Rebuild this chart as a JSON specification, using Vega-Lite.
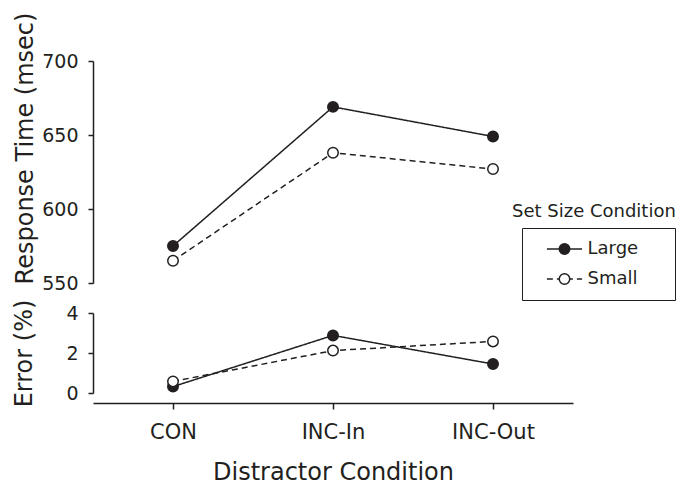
{
  "$schema": "https://vega.github.io/schema/vega-lite/v6.json",
  "padding": {"left": 12, "top": 12, "right": 2, "bottom": 0},
  "background": "white",
  "config": {
    "font": "DejaVu Sans",
    "view": {"stroke": null},
    "axis": {
      "grid": false,
      "domainColor": "#231f20",
      "domainWidth": 1.5,
      "tickColor": "#231f20",
      "tickWidth": 1.5,
      "tickSize": 5,
      "labelColor": "#231f20",
      "titleColor": "#231f20",
      "labelFont": "DejaVu Sans",
      "titleFont": "DejaVu Sans",
      "titleFontWeight": "normal",
      "labelFontSize": 19,
      "titleFontSize": 24,
      "labelOverlap": false,
      "labelFlush": false
    },
    "legend": {
      "labelFont": "DejaVu Sans",
      "titleFont": "DejaVu Sans",
      "labelColor": "#231f20",
      "titleColor": "#231f20"
    }
  },
  "data": {
    "values": [
      {"cond": "CON", "set": "Large", "rt": 575, "err": 0.32},
      {"cond": "CON", "set": "Small", "rt": 565, "err": 0.58},
      {"cond": "INC-In", "set": "Large", "rt": 669, "err": 2.88},
      {"cond": "INC-In", "set": "Small", "rt": 638, "err": 2.12},
      {"cond": "INC-Out", "set": "Large", "rt": 649, "err": 1.45},
      {"cond": "INC-Out", "set": "Small", "rt": 627, "err": 2.58}
    ]
  },
  "spacing": 30,
  "bounds": "flush",
  "vconcat": [
    {
      "width": 480,
      "height": 222,
      "layer": [
        {
          "mark": {"type": "line", "color": "#231f20", "strokeWidth": 1.5},
          "encoding": {
            "x": {"field": "cond", "type": "nominal", "sort": ["CON", "INC-In", "INC-Out"], "scale": {"type": "point", "padding": 0.5}, "axis": null},
            "y": {
              "field": "rt", "type": "quantitative",
              "scale": {"domain": [550, 700], "nice": false, "zero": false},
              "axis": {"values": [550, 600, 650, 700], "title": "Response Time (msec)", "titlePadding": 4, "labelPadding": 10, "titleY": 87}
            },
            "strokeDash": {
              "field": "set", "type": "nominal",
              "scale": {"range": [[1, 0], [6, 4]]},
              "legend": {
                "title": null,
                "orient": "none",
                "legendX": 429,
                "legendY": 167,
                "strokeColor": "#231f20",
                "padding": 12,
                "symbolType": "M-2.2,0H2.2M11.9,0",
                "symbolSize": 256,
                "symbolStrokeWidth": 1.5,
                "symbolStrokeColor": "#231f20",
                "symbolOffset": 21.5,
                "labelOffset": 14,
                "labelFontSize": 18,
                "rowPadding": 12
              }
            }
          }
        },
        {
          "mark": {"type": "point", "shape": "circle", "filled": true, "size": 110, "stroke": "#231f20", "strokeWidth": 1.5, "opacity": 1},
          "encoding": {
            "x": {"field": "cond", "type": "nominal", "sort": ["CON", "INC-In", "INC-Out"], "scale": {"type": "point", "padding": 0.5}, "axis": null},
            "y": {"field": "rt", "type": "quantitative"},
            "fill": {
              "field": "set", "type": "nominal",
              "scale": {"domain": ["Large", "Small"], "range": ["#231f20", "white"]},
              "legend": {
                "title": "Set Size Condition",
                "orient": "none",
                "legendX": 419,
                "legendY": 142,
                "padding": 0,
                "titleFontSize": 18,
                "titleFontWeight": "normal",
                "titlePadding": 19,
                "symbolType": "circle",
                "symbolSize": 110,
                "symbolStrokeColor": "#231f20",
                "symbolStrokeWidth": 1.5,
                "symbolOffset": 43.5,
                "labelExpr": "''",
                "labelFontSize": 18,
                "rowPadding": 12,
                "zindex": 1
              }
            }
          }
        }
      ]
    },
    {
      "width": 480,
      "height": 80,
      "layer": [
        {
          "mark": {"type": "line", "color": "#231f20", "strokeWidth": 1.5},
          "encoding": {
            "x": {
              "field": "cond", "type": "nominal", "sort": ["CON", "INC-In", "INC-Out"],
              "scale": {"type": "point", "padding": 0.5},
              "axis": {"title": "Distractor Condition", "offset": 10, "labelFontSize": 21, "labelPadding": 12, "titlePadding": 18, "tickSize": 6, "labelAngle": 0}
            },
            "y": {
              "field": "err", "type": "quantitative",
              "scale": {"domain": [0, 4], "nice": false},
              "axis": {"values": [0, 2, 4], "title": "Error (%)", "titlePadding": 29, "labelPadding": 10, "labelOverlap": false, "labelFlush": false}
            },
            "strokeDash": {"field": "set", "type": "nominal", "scale": {"range": [[1, 0], [6, 4]]}, "legend": null}
          }
        },
        {
          "mark": {"type": "point", "shape": "circle", "filled": true, "size": 110, "stroke": "#231f20", "strokeWidth": 1.5, "opacity": 1},
          "encoding": {
            "x": {"field": "cond", "type": "nominal", "sort": ["CON", "INC-In", "INC-Out"]},
            "y": {"field": "err", "type": "quantitative", "axis": {"values": [0, 2, 4], "title": "Error (%)", "titlePadding": 29, "labelPadding": 10, "labelOverlap": false, "labelFlush": false}},
            "fill": {"field": "set", "type": "nominal", "scale": {"domain": ["Large", "Small"], "range": ["#231f20", "white"]}, "legend": null}
          }
        }
      ]
    }
  ]
}
